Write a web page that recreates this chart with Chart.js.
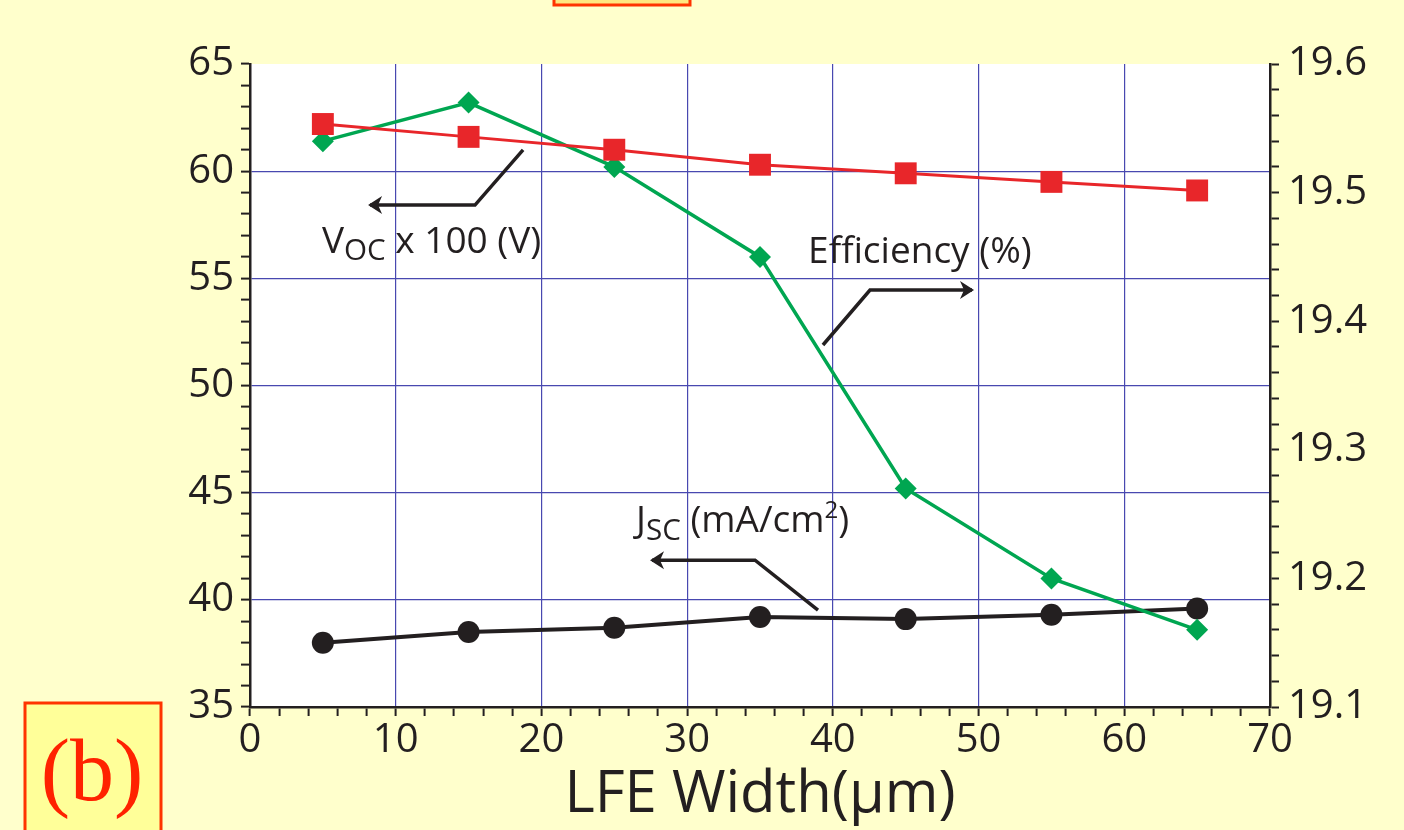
<!DOCTYPE html>
<html><head><meta charset="utf-8">
<script src="https://cdn.jsdelivr.net/npm/chart.js@4.4.0/dist/chart.umd.min.js"></script>
<style>html,body{margin:0;padding:0;background:#FFFFCC;overflow:hidden}</style>
</head><body>
<canvas id="c" width="1404" height="830" style="width:1404px;height:830px;display:block"></canvas>
<script>
// ---- data ----
const widths = [5, 15, 25, 35, 45, 55, 65];
const vocX100 = [62.2, 61.6, 61.0, 60.3, 59.9, 59.5, 59.1];
const jsc = [38.0, 38.5, 38.7, 39.2, 39.1, 39.3, 39.6];
const efficiency = [19.54, 19.57, 19.52, 19.45, 19.27, 19.20, 19.16];
const xTitle = 'LFE Width(\u03bcm)';
const panelLabel = '(b)';
// annotations (text + bent arrows), in data units of x / left y axis
const notes = [
  {parts: [['V', ''], ['OC', 'sub'], [' x 100 (V)', '']], x: 4.94, y: 56.18,
   arrow: [[18.74, 60.99], [15.44, 58.42], [8.24, 58.42]]},
  {parts: [['Efficiency (%)', '']], x: 38.3, y: 55.71,
   arrow: [[39.32, 51.89], [42.55, 54.45], [49.55, 54.45]]},
  {parts: [['J', ''], ['SC', 'sub'], [' (mA/cm', ''], ['2', 'sup'], [')', '']], x: 26.49, y: 43.16,
   arrow: [[38.98, 39.52], [34.66, 41.85], [27.59, 41.85]]}
];

const INK = '#231F20';
const GRID = '#4848B0';
const FONT = "'Open Sans', 'Noto Sans', sans-serif";
Chart.defaults.font.family = FONT;
Chart.defaults.color = INK;

const pts = arr => widths.map((w, i) => ({x: w, y: arr[i]}));

const decor = {
  id: 'decor',
  beforeDraw(chart) {
    const {ctx, chartArea: a} = chart;
    ctx.save();
    ctx.fillStyle = '#FFFFCC';
    ctx.fillRect(0, 0, chart.width, chart.height);
    ctx.fillStyle = '#FFFFFF';
    ctx.fillRect(a.left, a.top, a.right - a.left, a.bottom - a.top);
    ctx.restore();
  },
  afterDraw(chart) {
    const {ctx} = chart;
    const xs = chart.scales.x, ys = chart.scales.y;
    ctx.save();
    // annotations
    const fs = 37;
    notes.forEach(n => {
      let px = xs.getPixelForValue(n.x);
      const py = ys.getPixelForValue(n.y);
      ctx.fillStyle = INK;
      ctx.textBaseline = 'alphabetic';
      ctx.textAlign = 'left';
      n.parts.forEach(([t, kind]) => {
        let size = fs, dy = 0;
        if (kind === 'sub') { size = fs * 0.8; dy = fs * 0.2; }
        if (kind === 'sup') { size = fs * 0.65; dy = -fs * 0.38; }
        ctx.font = `${size}px ${FONT}`;
        ctx.fillText(t, px, py + dy);
        px += ctx.measureText(t).width;
      });
      // arrow
      const p = n.arrow.map(([ax, ay]) => [xs.getPixelForValue(ax), ys.getPixelForValue(ay)]);
      ctx.strokeStyle = INK;
      ctx.lineWidth = 3.5;
      ctx.lineJoin = 'miter';
      ctx.beginPath();
      ctx.moveTo(p[0][0], p[0][1]);
      for (let i = 1; i < p.length; i++) ctx.lineTo(p[i][0], p[i][1]);
      ctx.stroke();
      const e = p[p.length - 1], s = p[p.length - 2];
      const dir = Math.sign(e[0] - s[0]);
      ctx.fillStyle = INK;
      ctx.beginPath();
      ctx.moveTo(e[0] + dir * 2, e[1]);
      ctx.lineTo(e[0] - dir * 12, e[1] - 9);
      ctx.lineTo(e[0] - dir * 8, e[1]);
      ctx.lineTo(e[0] - dir * 12, e[1] + 9);
      ctx.closePath();
      ctx.fill();
    });
    // panel label box
    ctx.fillStyle = '#FFFF99';
    ctx.strokeStyle = '#FF3300';
    ctx.lineWidth = 3;
    ctx.fillRect(25, 703, 136, 140);
    ctx.strokeRect(25, 703, 136, 140);
    ctx.fillStyle = '#FF2200';
    ctx.font = "88px 'Liberation Serif', 'DejaVu Serif', serif";
    ctx.textAlign = 'center';
    ctx.fillText(panelLabel, 92, 800);
    // partial box at top
    ctx.fillStyle = '#FFE680';
    ctx.fillRect(554, -10, 136, 15);
    ctx.strokeRect(554, -10, 136, 15);
    ctx.restore();
  }
};

new Chart(document.getElementById('c'), {
  type: 'line',
  data: {
    datasets: [
      {label: 'Voc x 100 (V)', data: pts(vocX100), yAxisID: 'y', borderColor: '#E8262A',
       backgroundColor: '#E8262A', borderWidth: 3, pointStyle: 'rect', pointRadius: 15.5,
       pointBorderWidth: 0},
      {label: 'Efficiency (%)', data: pts(efficiency), yAxisID: 'y1', borderColor: '#00A651',
       backgroundColor: '#00A651', borderWidth: 3.5, pointStyle: 'rectRot', pointRadius: 11,
       pointBorderWidth: 0},
      {label: 'Jsc (mA/cm2)', data: pts(jsc), yAxisID: 'y', borderColor: INK,
       backgroundColor: INK, borderWidth: 4, pointStyle: 'circle', pointRadius: 11,
       pointBorderWidth: 0}
    ]
  },
  options: {
    responsive: false,
    animation: false,
    devicePixelRatio: 1,
    layout: {padding: {top: 64, left: 0, right: 0, bottom: 0}},
    plugins: {legend: {display: false}, tooltip: {enabled: false}},
    scales: {
      x: {
        type: 'linear', min: 0, max: 70,
        afterFit: s => { s.height = 123; },
        border: {color: INK, width: 2.5},
        grid: {
          color: c => (c.tick && c.tick.value % 10 === 0 && c.tick.value > 0 && c.tick.value < 70) ? GRID : 'rgba(0,0,0,0)',
          lineWidth: 1.2, tickColor: INK, tickLength: 9, tickWidth: 2
        },
        ticks: {stepSize: 2, autoSkip: false, maxRotation: 0, padding: 1,
          font: {size: 40}, color: INK,
          callback: v => (v % 10 === 0 ? String(v) : '')},
        title: {display: true, text: xTitle, font: {size: 58}, color: INK, padding: 0}
      },
      y: {
        type: 'linear', position: 'left', min: 35, max: 65,
        afterFit: s => { s.width = 250; },
        border: {color: INK, width: 2.5},
        grid: {
          color: c => (c.tick && c.tick.value % 5 === 0 && c.tick.value > 35 && c.tick.value < 65) ? GRID : 'rgba(0,0,0,0)',
          lineWidth: 1.2, tickColor: INK, tickLength: 9, tickWidth: 2
        },
        ticks: {stepSize: 1, autoSkip: false, padding: 7, font: {size: 40}, color: INK,
          callback: v => (v % 5 === 0 ? String(v) : '')}
      },
      y1: {
        type: 'linear', position: 'right', min: 19.1, max: 19.6,
        afterFit: s => { s.width = 134; },
        border: {color: INK, width: 2.5},
        grid: {drawOnChartArea: false, tickColor: INK, tickLength: 9, tickWidth: 2},
        ticks: {stepSize: 0.02, autoSkip: false, padding: 9, font: {size: 40}, color: INK,
          callback: v => (Math.round(v * 100) % 10 === 0 ? v.toFixed(1) : '')}
      }
    }
  },
  plugins: [decor]
});
</script>
</body></html>
